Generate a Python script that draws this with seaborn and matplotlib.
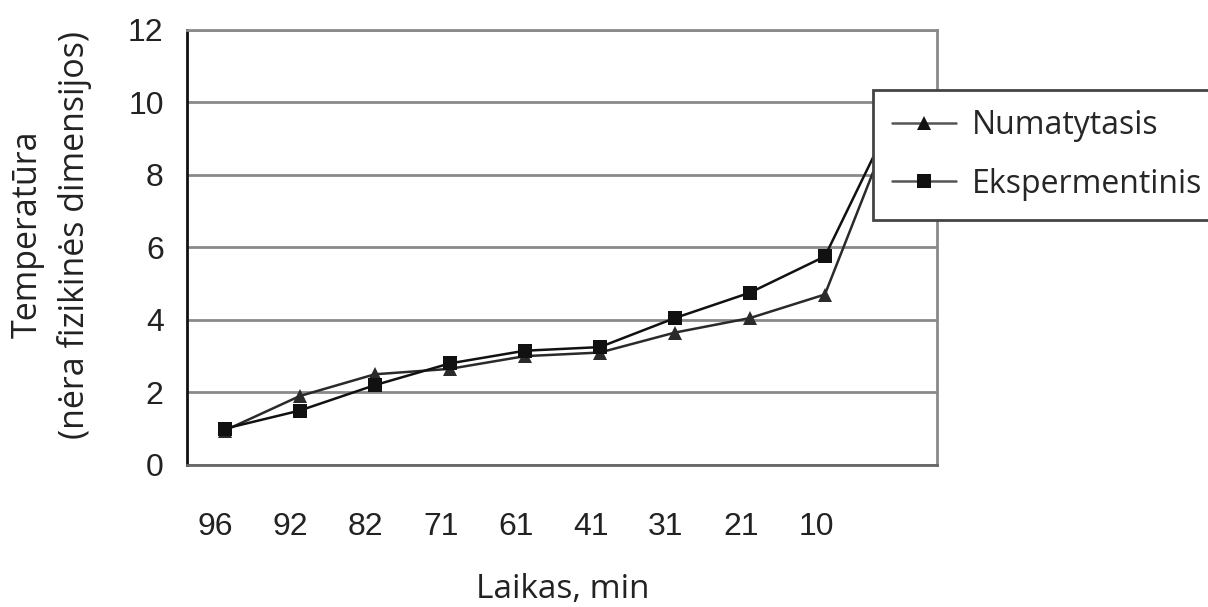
import matplotlib
matplotlib.use('Agg')
import matplotlib.pyplot as plt
import seaborn as sns
import pandas as pd
import numpy as np

# duomenys nuskaityti nuo paveikslo
laikas = ["96", "92", "82", "71", "61", "41", "31", "21", "10", ""]
numatytasis = [0.95, 1.9, 2.5, 2.65, 3.0, 3.1, 3.65, 4.05, 4.7, 9.95]
eksperimentinis = [1.0, 1.5, 2.2, 2.8, 3.15, 3.25, 4.05, 4.75, 5.75, 10.0]

sns.set_style('white')
plt.rcParams['font.family'] = ['Liberation Sans', 'DejaVu Sans']
calibri_like = ['Open Sans', 'DejaVu Sans']

pos = np.arange(len(laikas))
df = pd.DataFrame({
    'x': np.concatenate([pos, pos]),
    'y': numatytasis + eksperimentinis,
    'serija': ['Numatytasis'] * len(pos) + ['Ekspermentinis'] * len(pos),
})

fig = plt.figure(figsize=(12.08, 6.07), dpi=100)
ax = fig.add_axes([0.155, 0.234, 0.621, 0.717])

sns.lineplot(data=df, x='x', y='y', hue='serija', style='serija',
             markers={'Numatytasis': '^', 'Ekspermentinis': 's'},
             dashes=False, palette={'Numatytasis': '#2a2a2a', 'Ekspermentinis': '#111111'},
             markersize=10, linewidth=1.8, markeredgewidth=0, ax=ax, legend=False)

ax.set_xlim(-0.5, len(laikas) - 0.5)
ax.set_ylim(0, 12)
ax.set_yticks(np.arange(0, 13, 2))
ax.set_yticklabels([str(v) for v in range(0, 13, 2)], fontsize=23, color='#222222')
ax.yaxis.grid(True, color='#8a8a8a', linewidth=2)
ax.set_axisbelow(True)

# tick marks at category borders, labels in centres
ax.set_xticks(np.arange(-0.5, len(laikas), 1.0))
ax.set_xticklabels([])
ax.set_xticks(pos - 0.12, minor=True)
ax.set_xticklabels(laikas, minor=True, fontsize=23, color='#222222')
ax.tick_params(axis='x', which='major', direction='out', length=9, width=1.5, color='#222222')
ax.tick_params(axis='x', which='minor', length=0, pad=34)
ax.tick_params(axis='y', direction='out', length=9, width=1.5, color='#555555', pad=8)

for s in ['top', 'right']:
    ax.spines[s].set_color('#8a8a8a')
    ax.spines[s].set_linewidth(2)
ax.spines['left'].set_color('#111111')
ax.spines['left'].set_linewidth(2)
ax.spines['bottom'].set_color('#666666')
ax.spines['bottom'].set_linewidth(2)

ax.set_xlabel('Laikas, min', fontsize=24, family=calibri_like,
              color='#222222', labelpad=22)
ax.set_ylabel('Temperatūra\n(nėra fizikinės dimensijos)', fontsize=24.5,
              family=calibri_like, color='#222222', linespacing=1.45)
ax.yaxis.set_label_coords(-0.127, 0.529)

handles = [
    plt.Line2D([], [], color='#555555', marker='^', markersize=10, markerfacecolor='#111111',
               markeredgewidth=0, linewidth=1.8),
    plt.Line2D([], [], color='#555555', marker='s', markersize=10, markerfacecolor='#111111',
               markeredgewidth=0, linewidth=1.8),
]
leg = fig.legend(handles, ['Numatytasis', 'Ekspermentinis'], loc='upper left',
                 bbox_to_anchor=(0.7227, 0.852), borderaxespad=0, frameon=True,
                 fancybox=False, framealpha=1, prop={'family': calibri_like, 'size': 23},
                 handlelength=2.0, handletextpad=0.5, borderpad=0.6, labelspacing=0.8)
leg.get_frame().set_edgecolor('#444444')
leg.get_frame().set_linewidth(2)
leg.set_zorder(10)

fig.savefig('out.png', dpi=100)
